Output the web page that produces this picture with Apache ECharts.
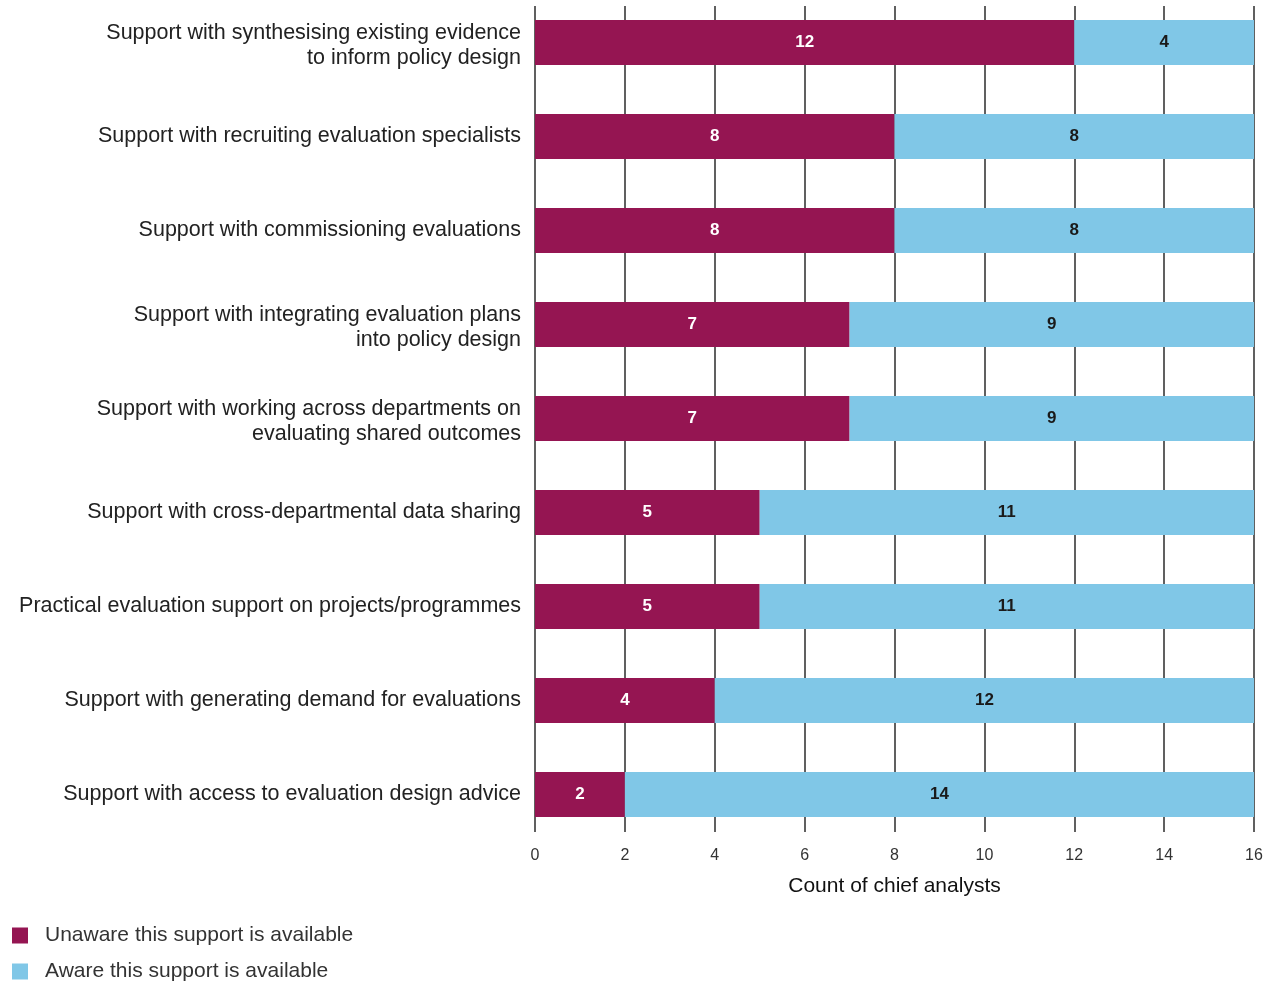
<!DOCTYPE html>
<html>
<head>
<meta charset="utf-8">
<title>Chief analysts: awareness of evaluation support</title>
<script src="https://cdn.jsdelivr.net/npm/echarts@6/dist/echarts.min.js"></script>
<style>
  html, body { margin: 0; padding: 0; background: #ffffff; }
  #chart { width: 1284px; height: 982px; }
</style>
</head>
<body>
<div id="chart"></div>
<script>
// Support types, listed top to bottom
const categories = [
  'Support with synthesising existing evidence\nto inform policy design',
  'Support with recruiting evaluation specialists',
  'Support with commissioning evaluations',
  'Support with integrating evaluation plans\ninto policy design',
  'Support with working across departments on\nevaluating shared outcomes',
  'Support with cross-departmental data sharing',
  'Practical evaluation support on projects/programmes',
  'Support with generating demand for evaluations',
  'Support with access to evaluation design advice'
];
const unawareCounts = [12, 8, 8, 7, 7, 5, 5, 4, 2];
const awareCounts = [4, 8, 8, 9, 9, 11, 11, 12, 14];
const seriesNames = ['Unaware this support is available', 'Aware this support is available'];
const xTicks = [0, 2, 4, 6, 8, 10, 12, 14, 16];
const axisTitle = 'Count of chief analysts';

const MAROON = '#951552';
const SKY = '#80C7E7';
const FONT = '"Liberation Sans", Arial, sans-serif';

// one legend entry per row, stacked under the chart
const legendRow = (name, top) => ({
  orient: 'vertical',
  left: 12,
  top: top,
  padding: 0,
  itemWidth: 16,
  itemHeight: 16,
  icon: 'rect',
  textStyle: { fontSize: 21, color: '#333', fontFamily: FONT, padding: [0, 0, 0, 12] },
  data: [name]
});

const chart = echarts.init(document.getElementById('chart'));

chart.setOption({
  animation: false,
  textStyle: { fontFamily: FONT },
  legend: [legendRow(seriesNames[0], 925), legendRow(seriesNames[1], 961)],
  grid: [
    // bars
    { left: 535, width: 719, top: -4.5, height: 846, containLabel: false, outerBoundsMode: 'none' },
    // vertical grid lines and value labels
    { left: 535, width: 719, top: 6, height: 826, containLabel: false, outerBoundsMode: 'none' }
  ],
  xAxis: [
    {
      gridIndex: 0, type: 'value', min: 0, max: 16, interval: 2,
      axisLine: { show: false }, axisTick: { show: false },
      axisLabel: { show: false }, splitLine: { show: false }
    },
    {
      gridIndex: 1, type: 'value', min: xTicks[0], max: xTicks[xTicks.length - 1], interval: 2,
      axisLine: { show: false }, axisTick: { show: false },
      axisLabel: {
        fontSize: 16, color: '#333', margin: 16, fontFamily: FONT,
        formatter: v => (xTicks.indexOf(v) >= 0 ? String(v) : '')
      },
      splitLine: { show: true, lineStyle: { color: '#2b2b2b', width: 1.5 } },
      name: axisTitle,
      nameLocation: 'middle',
      nameGap: 44,
      nameTextStyle: { fontSize: 21, color: '#111', fontFamily: FONT }
    }
  ],
  yAxis: [
    {
      gridIndex: 0, type: 'category', data: categories, inverse: true,
      axisLine: { show: false }, axisTick: { show: false },
      axisLabel: {
        fontSize: 21.5, color: '#222', margin: 14, lineHeight: 25,
        align: 'right', fontFamily: FONT,
        // two-line labels sit a little lower than the bar centre
        formatter: v => (v.indexOf('\n') >= 0 ? '{two|' + v.split('\n').join('}\n{two|') + '}' : v),
        rich: {
          two: { fontSize: 21.5, lineHeight: 25, color: '#222', fontFamily: FONT, padding: [6, 0, 0, 0] }
        }
      }
    },
    { gridIndex: 1, type: 'value', show: false, min: 0, max: 1 }
  ],
  series: [
    {
      name: seriesNames[0], type: 'bar', stack: 'total',
      xAxisIndex: 0, yAxisIndex: 0, z: 5,
      barWidth: 45,
      itemStyle: { color: MAROON },
      label: { show: true, position: 'inside', color: '#fff', fontWeight: 'bold', fontSize: 17, fontFamily: FONT },
      data: unawareCounts
    },
    {
      name: seriesNames[1], type: 'bar', stack: 'total',
      xAxisIndex: 0, yAxisIndex: 0, z: 5,
      barWidth: 45,
      itemStyle: { color: SKY },
      label: { show: true, position: 'inside', color: '#1a1a1a', fontWeight: 'bold', fontSize: 17, fontFamily: FONT },
      data: awareCounts
    },
    {
      // empty series anchoring the grid-line axes
      type: 'scatter', xAxisIndex: 1, yAxisIndex: 1, data: [], silent: true
    }
  ]
});
</script>
</body>
</html>
